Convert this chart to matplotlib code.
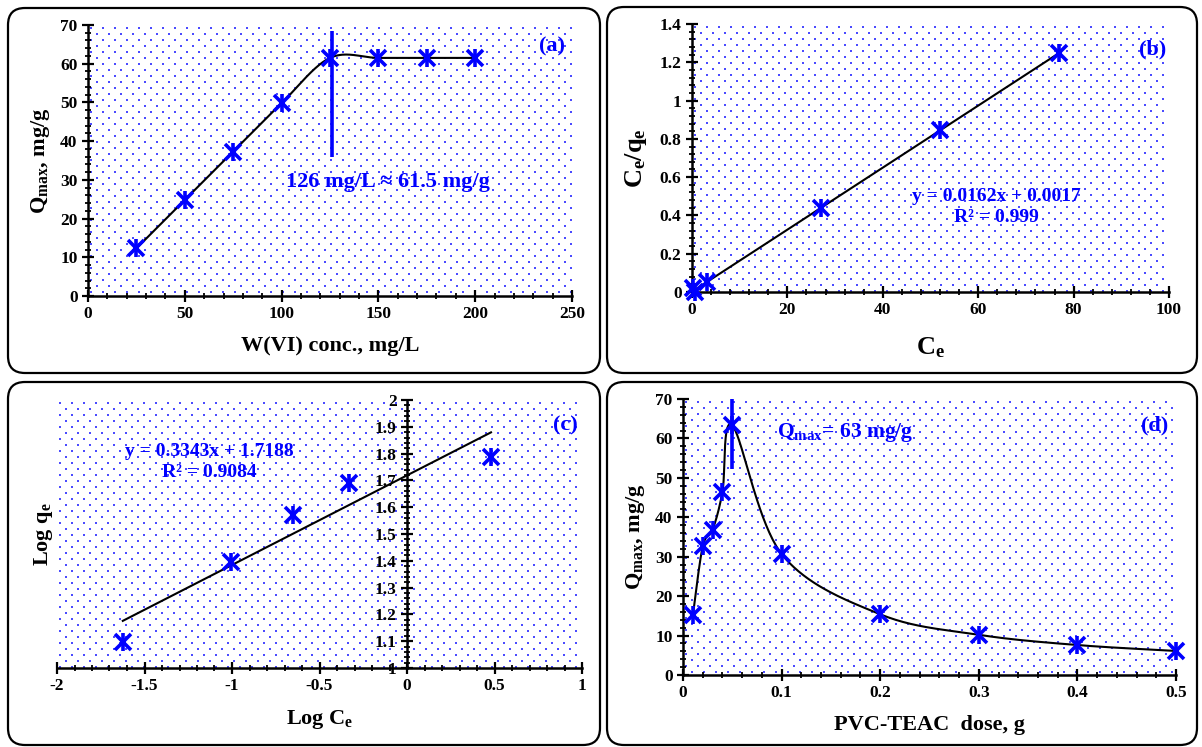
import matplotlib
matplotlib.use("Agg")
import matplotlib.pyplot as plt
import numpy as np
from matplotlib.patches import FancyBboxPatch
from matplotlib.ticker import MultipleLocator, FuncFormatter

plt.rcParams['font.family'] = ['Liberation Serif', 'DejaVu Serif']
plt.rcParams['font.weight'] = 'bold'
plt.rcParams['axes.unicode_minus'] = False
plt.rcParams['mathtext.fontset'] = 'custom'
plt.rcParams['mathtext.rm'] = 'Liberation Serif:bold'
plt.rcParams['mathtext.it'] = 'Liberation Serif:bold'
plt.rcParams['mathtext.bf'] = 'Liberation Serif:bold'

BLUE = '#0000ff'

# (a) effect of initial W(VI) concentration
conc_a = np.array([25, 50, 75, 100, 125, 150, 175, 200])
qmax_a = np.array([12.3, 24.8, 37.3, 49.8, 61.5, 61.5, 61.5, 61.5])
vline_a = (126, 36, 68.5)

# (b) Langmuir plot
ce_b = np.array([0.2, 0.6, 3.2, 27, 52, 77])
ceqe_b = np.array([0.02, 0.0, 0.052, 0.44, 0.845, 1.25])
fit_b = (0.0162, 0.0017)

# (c) Freundlich plot
logce_c = np.array([-1.624, -1.005, -0.651, -0.334, 0.48])
logqe_c = np.array([1.097, 1.396, 1.570, 1.692, 1.786])
fit_c = (0.3343, 1.7188)

# (d) effect of PVC-TEAC dose
dose_d = np.array([0.01, 0.02, 0.03, 0.04, 0.05, 0.1, 0.2, 0.3, 0.4, 0.5])
qmax_d = np.array([15.1, 32.6, 36.8, 46.4, 63.3, 30.7, 15.4, 10.2, 7.6, 6.1])
vline_d = (0.05, 52.3, 70)

W, H = 1202, 747
fig = plt.figure(figsize=(W / 100, H / 100), dpi=100)


def px_axes(l, r, t, b):
    return fig.add_axes([l / W, 1 - b / H, (r - l) / W, (b - t) / H])


def box(l, r, t, b):
    p = FancyBboxPatch((l / 100, (H - b) / 100), (r - l) / 100, (b - t) / 100,
                       boxstyle="round,pad=0,rounding_size=0.17",
                       transform=fig.dpi_scale_trans, fc='white', ec='black',
                       lw=1.6, zorder=-10)
    fig.patches.append(p)


def dots(ax, l, r, t, b):
    w, h = r - l, b - t
    xs, ys = [], []
    for j, yy in enumerate(np.arange(3, h, 6.0)):
        off = 3 if j % 2 == 0 else 9
        for xx in np.arange(off, w, 12.0):
            xs.append(xx / w)
            ys.append(1 - yy / h)
    ax.scatter(xs, ys, s=1.4, marker='s', color='#4b4bff', lw=0,
               transform=ax.transAxes, zorder=0, clip_on=True)


fmt = FuncFormatter(lambda v, pos: '%g' % round(v, 6))


def style(ax, xmaj, xmin, ymaj, ymin):
    for s in ['top', 'right']:
        ax.spines[s].set_visible(False)
    for s in ['left', 'bottom']:
        ax.spines[s].set_linewidth(1.8)
    ax.xaxis.set_major_locator(MultipleLocator(xmaj))
    ax.xaxis.set_minor_locator(MultipleLocator(xmin))
    ax.yaxis.set_major_locator(MultipleLocator(ymaj))
    ax.yaxis.set_minor_locator(MultipleLocator(ymin))
    ax.xaxis.set_major_formatter(fmt)
    ax.yaxis.set_major_formatter(fmt)
    ax.tick_params(which='major', direction='inout', length=9, width=1.6,
                   labelsize=12.5, pad=3)
    ax.tick_params(which='minor', direction='inout', length=5, width=1.3)
    for lab in ax.get_xticklabels() + ax.get_yticklabels():
        lab.set_fontweight('bold')


def star(ax, x, y):
    ax.plot(x, y, ls='none', marker='x', ms=12, mew=2.6, color=BLUE, zorder=5,
            clip_on=False)
    ax.plot(x, y, ls='none', marker='|', ms=13, mew=2.6, color=BLUE, zorder=5,
            clip_on=False)


def smooth(ax, x, y, n=40):
    # Excel-like smoothed line: Bezier segments with Catmull-Rom handles in screen space
    x0, x1 = ax.get_xlim()
    y0, y1 = ax.get_ylim()
    bb = ax.get_position()
    w, h = bb.width * W, bb.height * H
    P = np.column_stack([(x - x0) / (x1 - x0) * w, (y - y0) / (y1 - y0) * h])
    E = np.vstack([P[0], P, P[-1]])
    t = np.linspace(0, 1, n)[:, None]
    segs = []
    for i in range(len(P) - 1):
        p0, p1, p2, p3 = E[i], E[i + 1], E[i + 2], E[i + 3]
        c1 = p1 + (p2 - p0) / 6
        c2 = p2 - (p3 - p1) / 6
        segs.append((1 - t) ** 3 * p1 + 3 * (1 - t) ** 2 * t * c1
                    + 3 * (1 - t) * t ** 2 * c2 + t ** 3 * p2)
    S = np.vstack(segs)
    return x0 + S[:, 0] / w * (x1 - x0), y0 + S[:, 1] / h * (y1 - y0)


lab_kw = dict(fontsize=16, fontweight='bold')
txt_kw = dict(color=BLUE, fontweight='bold')

# boxes
box(8, 600, 8, 373)
box(607, 1197, 7, 373)
box(8, 600, 382, 745)
box(607, 1197, 382, 745)

# ---- (a)
axa = px_axes(88, 572, 25, 296)
axa.set_xlim(0, 250)
axa.set_ylim(0, 70)
style(axa, 50, 10, 10, 2)
dots(axa, 88, 572, 25, 296)
sx, sy = smooth(axa, conc_a, qmax_a)
axa.plot(sx, sy, color='black', lw=1.5, zorder=3)
star(axa, conc_a, qmax_a)
axa.vlines(vline_a[0], vline_a[1], vline_a[2], color=BLUE, lw=2.6, zorder=4)
axa.text(155, 29.4, '126 mg/L ≈ 61.5 mg/g', ha='center', va='center',
         fontsize=16, **txt_kw)
axa.text(0.985, 0.92, '(a)', transform=axa.transAxes, ha='right', va='center',
         fontsize=16, **txt_kw)
axa.set_xlabel('W(VI) conc., mg/L', labelpad=10, **lab_kw)
axa.set_ylabel('$Q_{max}$, mg/g', labelpad=6, **lab_kw)

# ---- (b)
axb = px_axes(692, 1169, 24, 292)
axb.set_xlim(0, 100)
axb.set_ylim(0, 1.4)
style(axb, 20, 4, 0.2, 0.04)
dots(axb, 692, 1169, 24, 292)
xf = np.array([ce_b.min(), ce_b.max()])
axb.plot(xf, fit_b[0] * xf + fit_b[1], color='black', lw=1.5, zorder=3)
star(axb, ce_b, ceqe_b)
axb.text(0.638, 0.318, 'y = 0.0162x + 0.0017\nR² = 0.999', transform=axb.transAxes,
         ha='center', va='center', fontsize=14, linespacing=1.3, **txt_kw)
axb.text(0.995, 0.905, '(b)', transform=axb.transAxes, ha='right', va='center',
         fontsize=16, **txt_kw)
axb.set_xlabel('$C_e$', labelpad=12, fontsize=19, fontweight='bold')
axb.set_ylabel('$C_e/q_e$', labelpad=8, fontsize=19, fontweight='bold')

# ---- (c)
axc = px_axes(57, 582, 400, 668)
axc.set_xlim(-2, 1)
axc.set_ylim(1, 2)
style(axc, 0.5, 0.1, 0.1, 0.02)
axc.spines['left'].set_position(('data', 0))
dots(axc, 57, 582, 400, 668)
xf = np.array([logce_c.min(), logce_c.max()])
axc.plot(xf, fit_c[0] * xf + fit_c[1], color='black', lw=1.5, zorder=3)
star(axc, logce_c, logqe_c)
axc.text(0.29, 0.77, 'y = 0.3343x + 1.7188\nR² = 0.9084', transform=axc.transAxes,
         ha='center', va='center', fontsize=14, linespacing=1.3, **txt_kw)
axc.text(0.992, 0.905, '(c)', transform=axc.transAxes, ha='right', va='center',
         fontsize=16, **txt_kw)
axc.set_xlabel('Log $C_e$', labelpad=10, **lab_kw)
axc.text(-0.025, 0.5, 'Log $q_e$', transform=axc.transAxes, rotation=90,
         ha='center', va='center', **lab_kw)

# ---- (d)
axd = px_axes(683, 1176, 399, 675)
axd.set_xlim(0, 0.5)
axd.set_ylim(0, 70)
style(axd, 0.1, 0.02, 10, 2)
dots(axd, 683, 1176, 399, 675)
sx, sy = smooth(axd, dose_d, qmax_d)
axd.plot(sx, sy, color='black', lw=1.5, zorder=3)
star(axd, dose_d, qmax_d)
axd.vlines(vline_d[0], vline_d[1], vline_d[2], color=BLUE, lw=2.6, zorder=4)
axd.text(0.19, 0.88, '$Q_{max}$= 63 mg/g', transform=axd.transAxes, ha='left',
         va='center', fontsize=15.5, **txt_kw)
axd.text(0.985, 0.905, '(d)', transform=axd.transAxes, ha='right', va='center',
         fontsize=16, **txt_kw)
axd.set_xlabel('PVC-TEAC  dose, g', labelpad=10, **lab_kw)
axd.set_ylabel('$Q_{max}$, mg/g', labelpad=6, **lab_kw)

fig.savefig('out.png', dpi=100)
